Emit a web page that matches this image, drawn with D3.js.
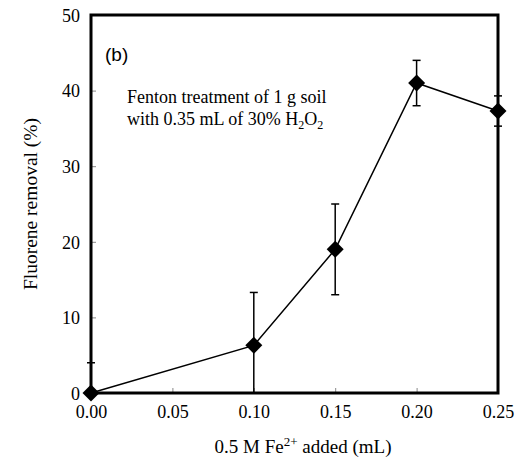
<!DOCTYPE html>
<html><head><meta charset="utf-8">
<script src="https://cdn.jsdelivr.net/npm/d3@7"></script>
<style>body{margin:0;background:#fff}svg{display:block}
.serif{font-family:"Liberation Serif","Times New Roman",serif}
</style>
</head><body>
<svg id="c" width="520" height="462"></svg>
<script>
const xValues = [0.00, 0.10, 0.15, 0.20, 0.25];
const removal = [0.0, 6.3, 19.0, 41.0, 37.3];
const errors = [4.0, 7.0, 6.0, 3.0, 2.0];
const xTicks = [0.00, 0.05, 0.10, 0.15, 0.20, 0.25];
const yTicks = [0, 10, 20, 30, 40, 50];

const svg = d3.select("#c");
const L = 91, R = 498, T = 15, B = 393;
const x = d3.scaleLinear().domain([0, 0.25]).range([L, R]);
const y = d3.scaleLinear().domain([0, 50]).range([B, T]);

const xAxis = svg.append("g").attr("transform", `translate(0,${B})`)
  .call(d3.axisBottom(x).tickValues(xTicks).tickSizeInner(-5).tickSizeOuter(0).tickFormat(d3.format(".2f")).tickPadding(12));
const yAxis = svg.append("g").attr("transform", `translate(${L},0)`)
  .call(d3.axisLeft(y).tickValues(yTicks).tickSizeInner(-5).tickSizeOuter(0).tickPadding(11));
[xAxis, yAxis].forEach(a => {
  a.attr("font-family", null).attr("font-size", null);
  a.select(".domain").remove();
  a.selectAll(".tick line").attr("stroke", "#888").attr("stroke-width", 1);
  a.selectAll(".tick text").attr("class", "serif").style("font-size", "18px").attr("fill", "#000");
});
xAxis.selectAll(".tick text").attr("dy", "0.71em");
yAxis.selectAll(".tick text").attr("dy", "0.35em");

svg.append("rect").attr("x", L).attr("y", T).attr("width", R - L).attr("height", B - T)
  .attr("fill", "none").attr("stroke", "#000").attr("stroke-width", 3);

svg.append("clipPath").attr("id", "cp").append("rect")
  .attr("x", L - 20).attr("y", T).attr("width", R - L + 40).attr("height", B - T);

const data = xValues.map((v, i) => ({x: v, y: removal[i], e: errors[i]}));

const eb = svg.append("g").attr("clip-path", "url(#cp)").attr("stroke", "#000").attr("stroke-width", 1.5);
data.forEach(d => {
  if (d.e <= 0) return;
  const cx = x(d.x);
  const lo = Math.max(0, d.y - d.e), hi = d.y + d.e;
  eb.append("line").attr("x1", cx).attr("x2", cx).attr("y1", y(lo)).attr("y2", y(hi));
  eb.append("line").attr("x1", cx - 4).attr("x2", cx + 4).attr("y1", y(hi)).attr("y2", y(hi));
  if (d.y - d.e > 0)
    eb.append("line").attr("x1", cx - 4).attr("x2", cx + 4).attr("y1", y(lo)).attr("y2", y(lo));
});

svg.append("path").datum(data)
  .attr("d", d3.line().x(d => x(d.x)).y(d => y(d.y)))
  .attr("fill", "none").attr("stroke", "#000").attr("stroke-width", 1.5);

svg.append("g").selectAll("path").data(data).join("path")
  .attr("transform", d => `translate(${x(d.x)},${y(d.y)})`)
  .attr("d", "M0,-8.5L8.5,0L0,8.5L-8.5,0Z").attr("fill", "#000");

svg.append("text").attr("x", 105).attr("y", 61)
  .style("font-family", "'Liberation Sans',Arial,sans-serif").style("font-size", "19px").text("(b)");

const ann = svg.append("text").attr("class", "serif").style("font-size", "18px").attr("fill", "#000");
ann.append("tspan").attr("x", 127).attr("y", 103).text("Fenton treatment of 1 g soil");
ann.append("tspan").attr("x", 127).attr("y", 125).text("with 0.35 mL of 30% H");
ann.append("tspan").style("font-size", "12px").attr("dy", 4).text("2");
ann.append("tspan").attr("dy", -4).text("O");
ann.append("tspan").style("font-size", "12px").attr("dy", 4).text("2");

svg.append("text").attr("class", "serif").attr("transform", `translate(30,${(T + B) / 2}) rotate(-90)`)
  .attr("text-anchor", "middle").attr("dy", "0.35em").style("font-size", "19.5px").text("Fluorene removal (%)");

const xl = svg.append("text").attr("class", "serif").attr("x", 303).attr("y", 453).attr("text-anchor", "middle")
  .style("font-size", "19px");
xl.append("tspan").text("0.5 M Fe");
xl.append("tspan").style("font-size", "13px").attr("dy", -7).text("2+");
xl.append("tspan").attr("dy", 7).text(" added (mL)");
</script>
</body></html>
